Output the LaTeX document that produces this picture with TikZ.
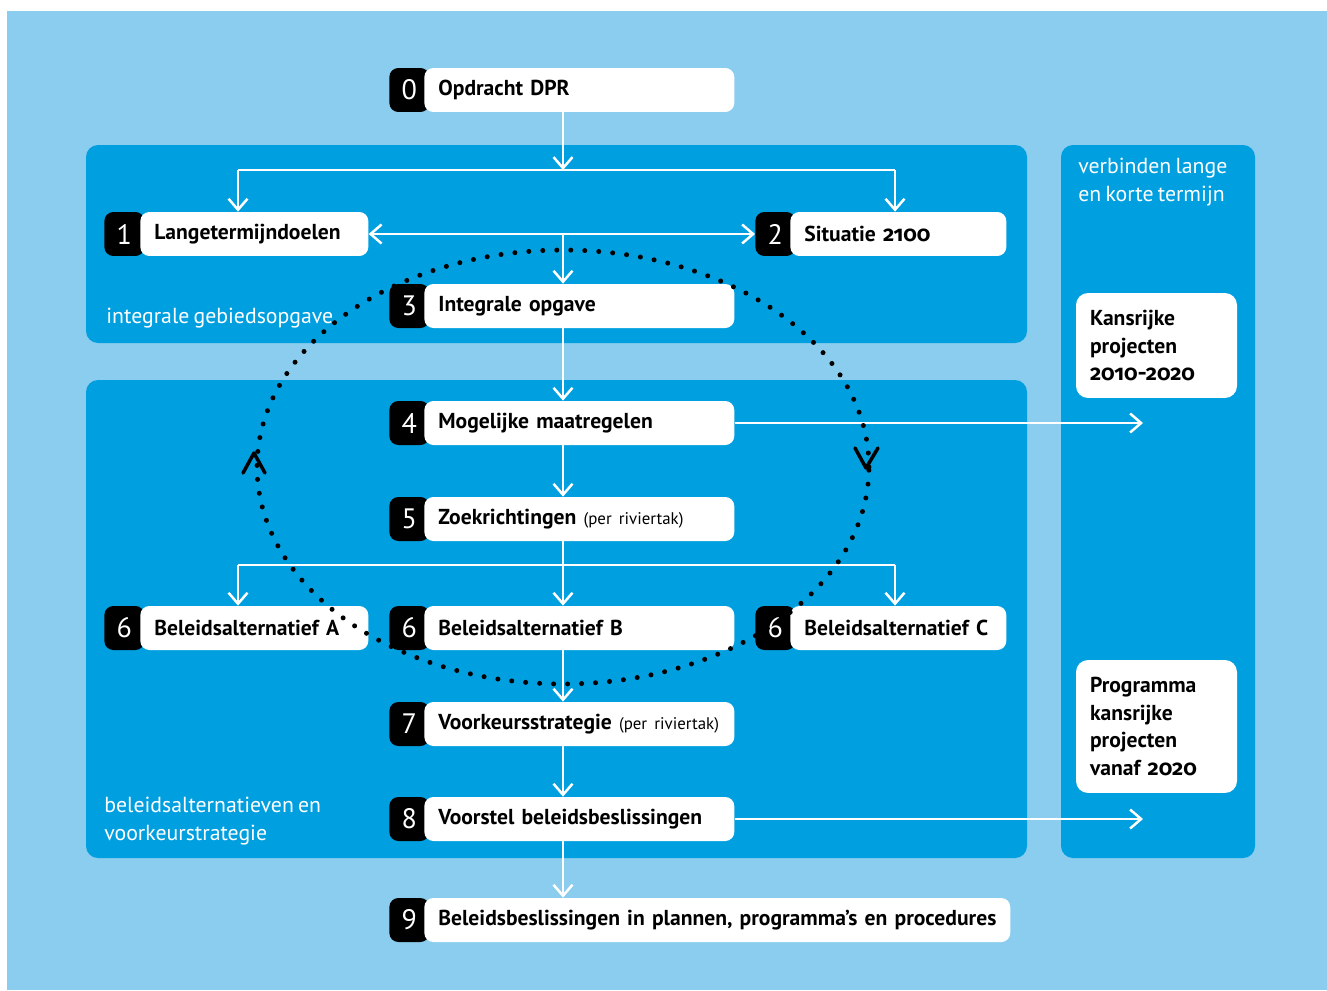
\documentclass[tikz,border=0pt]{standalone}
\usepackage{fontspec}
\setmainfont[WordSpace=0.72]{PT Sans}
\newfontfamily\osf[Numbers=OldStyle]{Fira Sans}
\usetikzlibrary{arrows.meta}

\definecolor{lichtblauw}{HTML}{8BCDEE}
\definecolor{donkerblauw}{HTML}{009FE0}

\tikzset{
  vlak/.style={fill=donkerblauw, rounded corners=0.24cm},
  box/.style={fill=white, rounded corners=0.18cm, anchor=west, minimum height=0.88cm,
    inner xsep=0.28cm, inner ysep=0pt, align=left, font=\fontsize{12.3}{15.5}\selectfont\bfseries},
  nr/.style={fill=black, text=white, rounded corners=0.18cm, anchor=west, minimum width=0.8cm,
    minimum height=0.88cm, inner sep=0pt, font=\fontsize{16}{16}\selectfont},
  kbox/.style={fill=white, rounded corners=0.24cm, minimum width=3.22cm, text width=2.66cm,
    inner xsep=0.28cm, align=left, font=\fontsize{12.3}{15.9}\selectfont\bfseries},
  lbl/.style={text=white, anchor=west, inner sep=0pt, align=left, font=\fontsize{12.4}{15.6}\selectfont},
  wline/.style={draw=white, line width=0.05cm},
  arr/.style={wline, -{Straight Barb[length=0.22cm, width=0.38cm]}},
  loop/.style={draw=black, line width=0.1cm, line cap=round, dash pattern=on 0pt off 0.28cm},
  chev/.style={draw=black, line width=0.07cm, line cap=round, line join=round}
}
\newcommand{\pertak}{{\mdseries\fontsize{9.6}{10}\selectfont(per riviertak)}}

\begin{document}
\begin{tikzpicture}[x=0.02cm,y=-0.02cm]
\useasboundingbox (0,0) rectangle (1327,990);
\fill[lichtblauw] (7,11) rectangle (1327,990);

% vlakken
\fill[vlak] (86,145) rectangle (1027,343);
\fill[vlak] (86,380) rectangle (1027,858);
\fill[vlak] (1061,145) rectangle (1255,858);
\node[lbl] (l1) at (106,318) {integrale gebiedsopgave};
\node[lbl] (l2) at (104,821) {beleidsalternatieven en\\voorkeurstrategie};
\node[lbl] (l3) at (1078,182) {verbinden lange\\en korte termijn};

% stappen
\node[nr] (b0) at (389,90) {0};
\node[box, text width=5.64cm] (n0) at (424,90) {Opdracht DPR};
\node[nr] (b1) at (104,234) {1};
\node[box, text width=4cm] (n1) at (140,234) {Langetermijndoelen};
\node[nr] (b2) at (755,234) {2};
\node[box, text width=3.76cm] (n2) at (790,234) {Situatie {\osf 2100}};
\node[nr] (b3) at (389,306) {3};
\node[box, text width=5.64cm] (n3) at (424,306) {Integrale opgave};
\node[nr] (b4) at (389,423) {4};
\node[box, text width=5.64cm] (n4) at (424,423) {Mogelijke maatregelen};
\node[nr] (b5) at (389,519) {5};
\node[box, text width=5.64cm] (n5) at (424,519) {Zoekrichtingen \pertak};
\node[nr] (b6a) at (104,628) {6};
\node[box, text width=4cm] (n6a) at (140,628) {Beleidsalternatief A};
\node[nr] (b6b) at (389,628) {6};
\node[box, text width=5.64cm] (n6b) at (424,628) {Beleidsalternatief B};
\node[nr] (b6c) at (755,628) {6};
\node[box, text width=3.76cm] (n6c) at (790,628) {Beleidsalternatief C};
\node[nr] (b7) at (389,724) {7};
\node[box, text width=5.64cm] (n7) at (424,724) {Voorkeursstrategie \pertak};
\node[nr] (b8) at (389,819) {8};
\node[box, text width=5.64cm] (n8) at (424,819) {Voorstel beleidsbeslissingen};
\node[nr] (b9) at (389,920) {9};
\node[box, text width=11.16cm] (n9) at (424,920) {\mbox{Beleidsbeslissingen in plannen, programma’s en procedures}};

\node[kbox, minimum height=2.1cm] (kp) at (1156.5,345.5) {Kansrijke\\projecten\\{\osf 2010-2020}};
\node[kbox, minimum height=2.66cm] (pk) at (1156.5,726.5) {Programma\\kansrijke\\projecten\\vanaf {\osf 2020}};

% verbindingen
\coordinate (s1) at (563,170);
\coordinate (t1) at (238,170);
\coordinate (t2) at (895,170);
\coordinate (m1) at (563,234);
\coordinate (s2) at (563,565);
\coordinate (t3) at (238,565);
\coordinate (t4) at (895,565);
\coordinate (k1) at (1143,423);
\coordinate (k2) at (1143,819);
\draw[arr] (n0.south -| s1) -- (s1);
\draw[wline] (t1) -- (t2);
\draw[arr] (t1) -- (t1 |- n1.north);
\draw[arr] (t2) -- (t2 |- n2.north);
\draw[wline, {Straight Barb[length=0.22cm, width=0.38cm]}-{Straight Barb[length=0.22cm, width=0.38cm]}] (n1.east) -- (b2.west);
\draw[arr] (m1) -- (m1 |- n3.north);
\draw[arr] (n3.south -| s1) -- (n4.north -| s1);
\draw[arr] (n4.south -| s1) -- (n5.north -| s1);
\draw[arr] (n5.south -| s1) -- (n6b.north -| s1);
\draw[wline] (t3) -- (t4);
\draw[arr] (t3) -- (t3 |- n6a.north);
\draw[arr] (t4) -- (t4 |- n6c.north);
\draw[arr] (n6b.south -| s1) -- (n7.north -| s1);
\draw[arr] (n7.south -| s1) -- (n8.north -| s1);
\draw[arr] (n8.south -| s1) -- (n9.north -| s1);
\draw[arr] (n4.east) -- (n4.east -| k1);
\draw[arr] (n8.east) -- (n8.east -| k2);

% cyclus
\draw[loop] (563,467) ellipse [x radius=6.12cm, y radius=4.34cm];
\draw[chev] (243,473) -- (254,453) -- (265,473);
\draw[chev] (855,448) -- (866,468) -- (878,448);
\end{tikzpicture}
\end{document}
